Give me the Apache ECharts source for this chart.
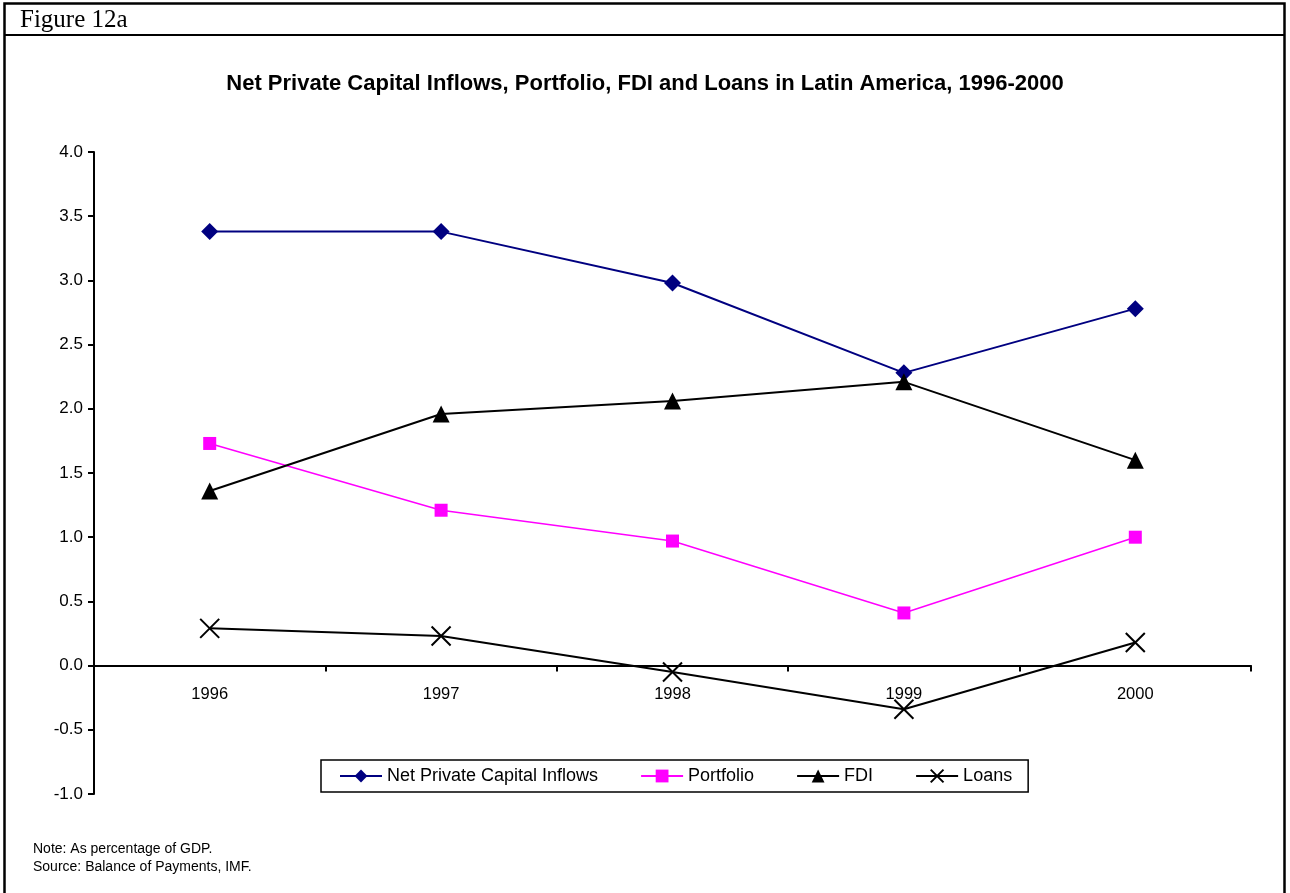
<!DOCTYPE html>
<html>
<head>
<meta charset="utf-8">
<script src="https://cdn.jsdelivr.net/npm/echarts@6/dist/echarts.min.js"></script>
<style>html,body{margin:0;padding:0;background:#fff}#c{width:1290px;height:893px}</style>
</head>
<body>
<div id="c"></div>
<script>
const years = ['1996', '1997', '1998', '1999', '2000'];
const netInflows = [3.38, 3.38, 2.98, 2.28, 2.78];
const portfolio = [1.73, 1.21, 0.97, 0.41, 1.00];
const fdi = [1.36, 1.96, 2.06, 2.21, 1.60];
const loans = [0.29, 0.23, -0.05, -0.34, 0.18];

const chart = echarts.init(document.getElementById('c'));
const font = 'Liberation Sans, Arial, sans-serif';
chart.setOption({
  animation: false,
  backgroundColor: '#fff',
  textStyle: { fontFamily: font },
  title: {
    text: 'Net Private Capital Inflows, Portfolio, FDI and Loans in Latin America, 1996-2000',
    left: 'center', top: 68,
    textStyle: { fontFamily: font, fontWeight: 'bold', fontSize: 22, color: '#000' }
  },
  grid: { left: 94, right: 39, top: 152, bottom: 99 },
  xAxis: {
    type: 'category', data: years,
    axisLine: { onZero: true, lineStyle: { color: '#000', width: 2 } },
    axisTick: { show: true, length: 6, lineStyle: { color: '#000', width: 2 } },
    axisLabel: { color: '#000', fontSize: 16.5, fontFamily: font, margin: -108 },
    splitLine: { show: false }
  },
  yAxis: {
    type: 'value', min: -1, max: 4, interval: 0.5,
    axisLine: { show: true, lineStyle: { color: '#000', width: 2 } },
    axisTick: { show: true, length: 6, lineStyle: { color: '#000', width: 2 } },
    axisLabel: { color: '#000', fontSize: 17, fontFamily: font, margin: 11, formatter: v => v.toFixed(1) },
    splitLine: { show: false }
  },
  legend: {
    bottom: 101, left: 321,
    itemGap: 42, itemWidth: 42, itemHeight: 16,
    padding: [7, 16, 7, 18],
    borderColor: '#000', borderWidth: 1.5,
    textStyle: { fontSize: 18, color: '#000', fontFamily: font },
    data: ['Net Private Capital Inflows', 'Portfolio', 'FDI', 'Loans']
  },
  series: [
    { name: 'Net Private Capital Inflows', type: 'line', data: netInflows,
      symbol: 'diamond', symbolSize: 17, showAllSymbol: true,
      lineStyle: { color: '#000080', width: 2 }, itemStyle: { color: '#000080' } },
    { name: 'Portfolio', type: 'line', data: portfolio,
      symbol: 'rect', symbolSize: 13,
      lineStyle: { color: '#ff00ff', width: 1.5 }, itemStyle: { color: '#ff00ff' } },
    { name: 'FDI', type: 'line', data: fdi,
      symbol: 'triangle', symbolSize: 17,
      lineStyle: { color: '#000', width: 2 }, itemStyle: { color: '#000' } },
    { name: 'Loans', type: 'line', data: loans,
      symbol: 'path://M0,0L10,10M10,0L0,10', symbolSize: 19,
      lineStyle: { color: '#000', width: 2 },
      itemStyle: { color: 'none', borderColor: '#000', borderWidth: 2 } }
  ],
  graphic: [
    { type: 'rect', shape: { x: 4.5, y: 3.5, width: 1280, height: 900 }, style: { fill: 'none', stroke: '#000', lineWidth: 2.5 }, silent: true },
    { type: 'line', shape: { x1: 4.5, y1: 35, x2: 1284.5, y2: 35 }, style: { stroke: '#000', lineWidth: 2 }, silent: true },
    { type: 'text', left: 20, top: 8, style: { text: 'Figure 12a', font: '25px "Liberation Serif", "Times New Roman", serif', fill: '#000' } },
    { type: 'text', left: 33, top: 840, style: { text: 'Note: As percentage of GDP.\nSource: Balance of Payments, IMF.', font: '14px "Liberation Sans", Arial, sans-serif', fill: '#000', lineHeight: 18 } }
  ]
});
</script>
</body>
</html>
